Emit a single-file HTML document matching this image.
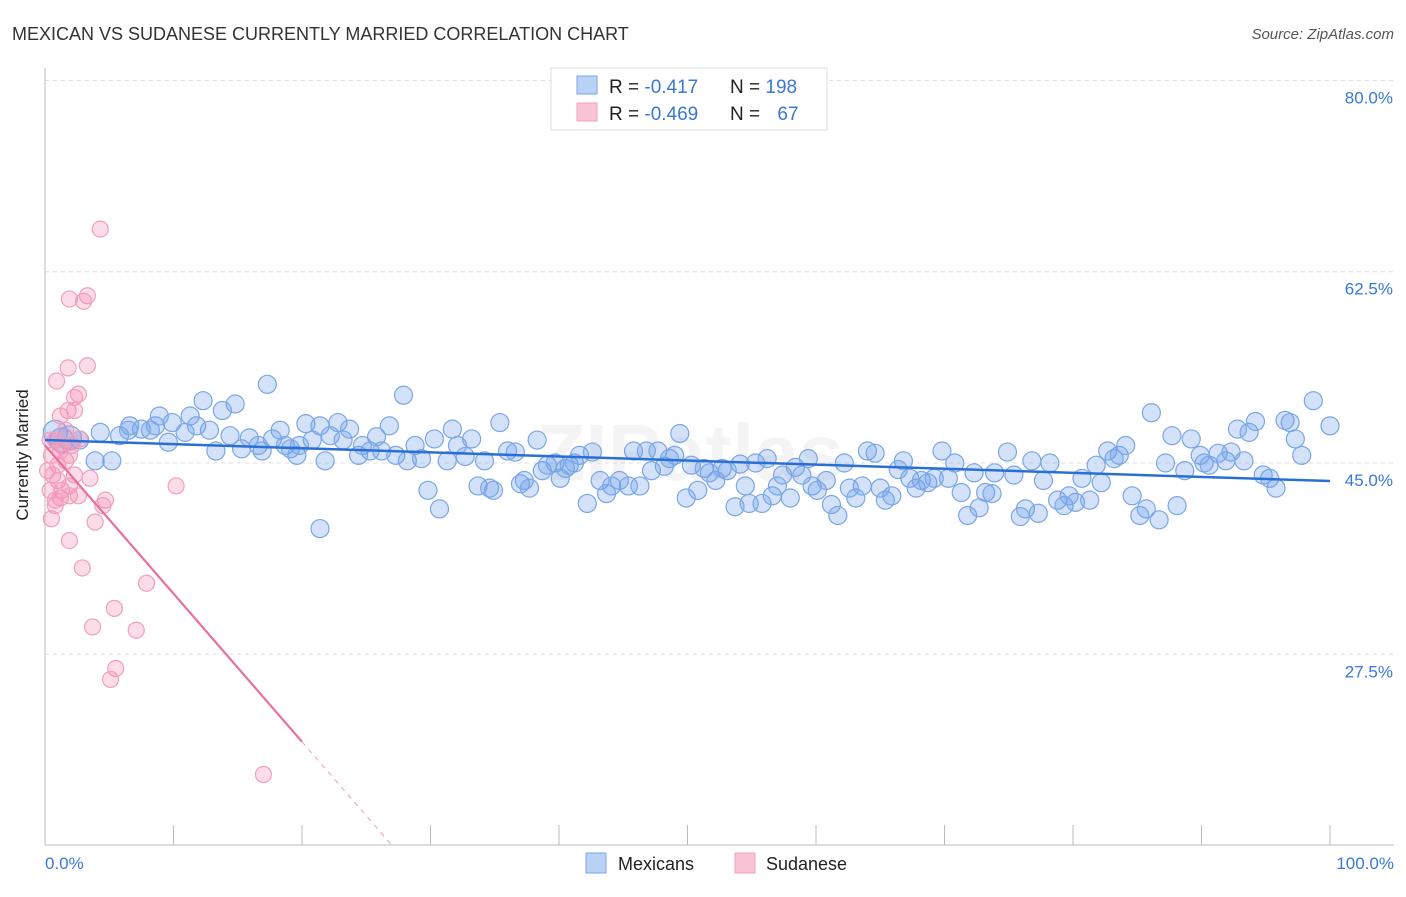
<!DOCTYPE html>
<html><head><meta charset="utf-8"><style>
body{margin:0;background:#fff;font-family:"Liberation Sans",sans-serif}
svg text{font-family:"Liberation Sans",sans-serif}
</style></head><body>
<svg id="chart" width="1406" height="892" viewBox="0 0 1406 892" xmlns="http://www.w3.org/2000/svg">
<text x="12" y="40" font-size="18" fill="#333">MEXICAN VS SUDANESE CURRENTLY MARRIED CORRELATION CHART</text>
<text x="1394" y="39" font-size="15" fill="#555" font-style="italic" text-anchor="end">Source: ZipAtlas.com</text>
<text x="690" y="480" font-size="80" fill="#000" opacity="0.04" text-anchor="middle" font-weight="bold">ZIPatlas</text>
<g id="grid"></g>
<g id="ylabels"></g>
<g id="xticks"></g>
<line x1="45" y1="68" x2="45" y2="845" stroke="#bbb"/>
<line x1="45" y1="845" x2="1394" y2="845" stroke="#bbb"/>
<g id="pts-blue"></g>
<g id="pts-pink"></g>
<g id="trends"></g>
<text x="28" y="455" font-size="17" fill="#222" text-anchor="middle" transform="rotate(-90 28 455)">Currently Married</text>
<text x="45" y="869" font-size="17" fill="#3a78d8">0.0%</text>
<text x="1394" y="869" font-size="17" fill="#3a78d8" text-anchor="end">100.0%</text>
<g>
<rect x="551" y="68" width="276" height="62" fill="#fff" stroke="#ddd"/>
<rect x="577" y="76" width="20" height="18" fill="#b9d2f5" stroke="#7aa6e6"/>
<rect x="577" y="103" width="20" height="18" fill="#f8c4d6" stroke="#f0a0bc"/>
<text x="609" y="93" font-size="19" fill="#222">R = <tspan fill="#3a78d8">-0.417</tspan></text>
<text x="730" y="93" font-size="19" fill="#222">N = <tspan fill="#3a78d8">198</tspan></text>
<text x="609" y="120" font-size="19" fill="#222">R = <tspan fill="#3a78d8">-0.469</tspan></text>
<text x="730" y="120" font-size="19" fill="#222">N = <tspan fill="#3a78d8" dx="12">67</tspan></text>
</g>
<g>
<rect x="586" y="853" width="20" height="20" fill="#b9d2f5" stroke="#7aa6e6"/>
<text x="618" y="870" font-size="18" fill="#222">Mexicans</text>
<rect x="735" y="853" width="20" height="20" fill="#f8c4d6" stroke="#f0a0bc"/>
<text x="766" y="870" font-size="18" fill="#222">Sudanese</text>
</g>
</svg>
<script>
const yTicks=[27.5,45,62.5,80];
const yTickLabels=["27.5%","45.0%","62.5%","80.0%"];
const xTicks=[0,10,20,30,40,50,60,70,80,90,100];
const blueX=[0.8,1.3,1.9,2.7,3.9,4.3,5.2,5.8,6.5,6.6,7.5,8.2,8.6,8.9,9.6,9.9,10.9,11.3,11.8,12.3,12.8,13.3,13.8,14.4,14.8,15.3,15.9,16.6,16.9,17.3,17.7,18.3,18.7,19.1,19.6,19.8,20.3,20.8,21.4,21.8,22.2,22.8,23.2,23.7,24.4,24.7,25.3,25.8,26.2,26.8,27.3,27.9,28.2,28.8,29.3,29.8,30.3,30.7,31.3,31.7,32.1,32.7,33.2,33.7,34.2,34.6,34.9,35.4,36.0,36.6,37.0,37.3,37.7,38.3,38.7,39.1,39.7,40.1,40.5,40.8,41.2,41.6,42.2,42.6,43.2,43.7,44.1,44.7,45.4,45.8,46.3,46.8,47.2,47.7,48.2,48.6,49.0,49.4,49.9,50.3,50.8,51.3,51.7,52.2,52.7,53.1,53.7,54.1,54.5,54.8,55.3,55.8,56.2,56.6,57.0,57.4,58.0,58.4,58.9,59.4,59.7,60.1,60.8,61.2,61.7,62.2,62.6,63.1,63.6,64.0,64.6,65.0,65.4,65.9,66.4,66.8,67.3,67.8,68.2,68.7,69.2,69.8,70.3,70.8,71.3,71.8,72.3,72.7,73.2,73.7,73.9,74.9,75.4,75.9,76.3,76.8,77.3,77.7,78.2,78.8,79.3,79.7,80.2,80.7,81.3,81.8,82.2,82.7,83.2,83.6,84.1,84.6,85.2,85.7,86.1,86.7,87.2,87.7,88.1,88.7,89.2,89.9,90.2,90.6,91.3,91.9,92.3,92.8,93.3,93.7,94.2,94.8,95.3,95.8,96.5,96.9,97.3,97.8,98.7,100.0,21.4];
const blueY=[47.8,47.1,47.3,47.1,45.2,47.8,45.2,47.5,48.0,48.4,48.1,48.0,48.4,49.3,46.9,48.7,47.8,49.3,48.4,50.7,48.0,46.1,49.8,47.5,50.4,46.3,47.3,46.6,46.1,52.2,47.2,48.0,46.6,46.3,45.7,46.6,48.6,47.1,48.4,45.2,47.5,48.7,47.1,48.1,45.7,46.6,46.1,47.4,46.1,48.4,45.7,51.2,45.2,46.6,45.4,42.5,47.2,40.8,45.2,48.1,46.6,45.6,47.2,42.9,45.2,42.7,42.5,48.7,46.1,46.0,43.1,43.4,42.7,47.1,44.3,44.8,45.0,43.6,44.5,44.8,45.0,45.7,41.3,46.0,43.4,42.2,42.9,43.4,42.9,46.1,42.9,46.1,44.3,46.1,44.7,45.4,45.7,47.7,41.8,44.8,42.5,44.5,44.1,43.4,44.5,44.3,41.0,44.9,42.9,41.3,45.0,41.3,45.4,42.0,42.9,43.9,41.8,44.6,43.9,45.4,42.9,42.5,43.4,41.2,40.2,45.0,42.7,41.8,42.9,46.1,45.9,42.7,41.6,42.0,44.4,45.2,43.6,42.7,43.4,43.2,43.6,46.1,43.6,45.0,42.3,40.2,44.1,40.9,42.3,42.2,44.1,46.0,43.9,40.1,40.8,45.2,40.4,43.4,45.0,41.6,41.1,42.0,41.4,43.6,41.6,44.8,43.2,46.1,45.4,45.7,46.6,42.0,40.2,40.8,49.6,39.8,45.0,47.5,41.1,44.3,47.2,45.7,45.0,44.8,45.9,45.2,46.0,48.1,45.2,47.8,48.8,43.9,43.6,42.7,48.9,48.7,47.2,45.7,50.7,48.4,39.0];
const pinkX=[4.3,1.9,3.3,3.0,0.9,1.8,3.3,2.6,2.3,1.8,1.2,2.3,0.8,1.3,0.5,1.0,1.6,1.9,2.1,2.7,0.6,1.0,0.4,1.3,1.9,1.2,1.9,0.8,2.6,3.5,4.7,4.5,3.9,1.9,2.9,5.4,3.7,7.1,7.9,5.5,5.1,10.2,17.0,0.5,0.8,0.2,0.4,1.6,1.2,2.3];
const pinkY=[66.4,60.0,60.3,59.8,52.5,53.7,53.9,51.3,51.0,49.8,49.3,49.8,47.1,46.6,45.7,44.8,45.2,45.7,46.6,47.2,43.9,43.4,42.5,42.5,42.9,41.8,42.0,41.1,42.0,43.6,41.6,41.1,39.6,37.9,35.4,31.7,30.0,29.7,34.0,26.2,25.2,42.9,16.5,39.9,41.6,44.3,47.1,48.0,46.1,43.9];
const blueTrend=[47.1,43.35];
const pinkTrend=[46.6,19.5];
const pinkSolidEnd=20;

const NS="http://www.w3.org/2000/svg";
const X0=45,X1=1330,Y45=463,PXPER=10.93,YBOT=845;
function sx(v){return X0+(X1-X0)*v/100;}
function sy(v){return Y45-(v-45)*PXPER;}
function mk(tag,attrs,parent){const e=document.createElementNS(NS,tag);for(const k in attrs)e.setAttribute(k,attrs[k]);parent.appendChild(e);return e;}
const grid=document.getElementById('grid'),yl=document.getElementById('ylabels'),xt=document.getElementById('xticks');
yTicks.forEach((t,i)=>{
  const l=mk('line',{x1:45,x2:1394,y1:sy(t),y2:sy(t),stroke:'#ddd','stroke-dasharray':'4 4'},grid);
  
  
  const tx=mk('text',{x:1393,y:sy(t)+23,'font-size':17,fill:'#3a78d8','text-anchor':'end'},yl);
  tx.textContent=yTickLabels[i];
  
  
});
xTicks.forEach(t=>{
  const l=mk('line',{x1:sx(t),x2:sx(t),y1:825,y2:845,stroke:'#bbb'},xt);
  
  
});
const gb=document.getElementById('pts-blue');
blueX.forEach((x,i)=>{
  const r=i<3?12:9;
  const c=mk('circle',{cx:sx(x),cy:sy(blueY[i]),r:r,fill:'rgba(110,160,235,0.3)',stroke:'#7aa6e6','stroke-width':1.2},gb);
  
  
});
const gp=document.getElementById('pts-pink');
pinkX.forEach((x,i)=>{
  const c=mk('circle',{cx:sx(x),cy:sy(pinkY[i]),r:8,fill:'rgba(245,140,180,0.3)',stroke:'#f0a0bc','stroke-width':1.2},gp);
  
  
});
const tg=document.getElementById('trends');
const bl=mk('line',{x1:sx(0),y1:sy(blueTrend[0]),x2:sx(100),y2:sy(blueTrend[1]),stroke:'#2a6fd6','stroke-width':2.5},tg);


const slope=(pinkTrend[1]-pinkTrend[0])/pinkSolidEnd;
const py=x=>pinkTrend[0]+slope*x;
const pl=mk('line',{x1:sx(0),y1:sy(py(0)),x2:sx(pinkSolidEnd),y2:sy(py(pinkSolidEnd)),stroke:'#e8709a','stroke-width':2.2},tg);


const yb=45-(YBOT-Y45)/PXPER;
const xEnd=(yb-pinkTrend[0])/slope;
const pd=mk('line',{x1:sx(pinkSolidEnd),y1:sy(py(pinkSolidEnd)),x2:sx(xEnd),y2:sy(yb),stroke:'#e8a0b8','stroke-width':1,'stroke-dasharray':'5 5'},tg);


</script>
</body></html>
